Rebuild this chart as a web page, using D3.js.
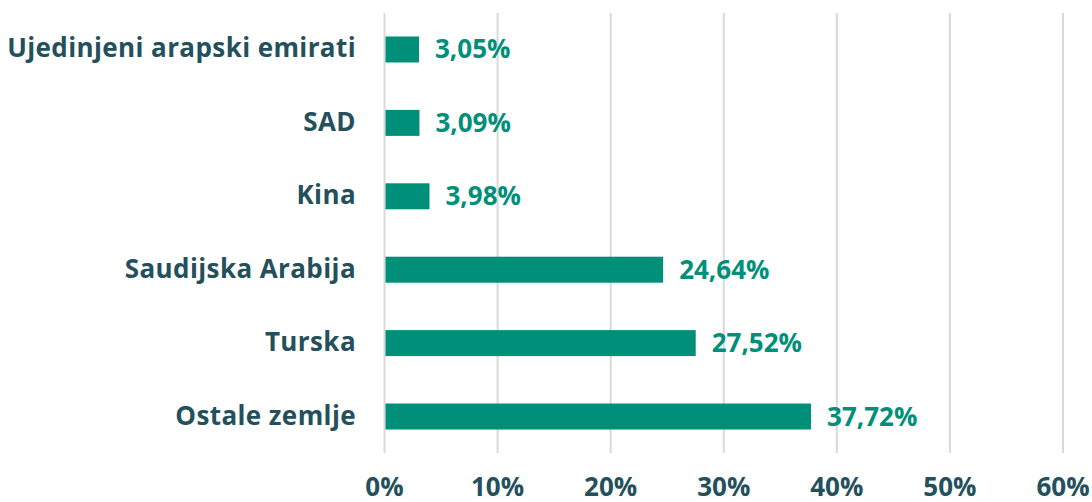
<!DOCTYPE html>
<html><head><meta charset="utf-8">
<script src="https://cdn.jsdelivr.net/npm/d3@7"></script>
<style>body{margin:0;background:#fff}svg{display:block}text{font-family:"Open Sans",sans-serif;font-weight:700}</style>
</head><body><svg id="c" width="1092" height="502"></svg>
<script>
const categories = ["Ujedinjeni arapski emirati","SAD","Kina","Saudijska Arabija","Turska","Ostale zemlje"];
const values = [3.05,3.09,3.98,24.64,27.52,37.72];
const tickValues = [0,10,20,30,40,50,60];
const fmt = v => v.toFixed(2).replace(".", ",") + "%";

const svg = d3.select("#c");
const x = d3.scaleLinear().domain([0,60]).range([384.5,1063]);
const y = d3.scaleBand().domain(categories).range([13,453]).paddingInner(0.646).paddingOuter(0.32);
const textColor = "#24505c", barColor = "#008f78";

svg.append("g").selectAll("line").data(tickValues).join("line")
  .attr("x1", d=>x(d)).attr("x2", d=>x(d)).attr("y1",13).attr("y2",453)
  .attr("stroke","#d9d9d9").attr("stroke-width",2);

svg.append("g").selectAll("text").data(tickValues).join("text")
  .attr("x", d=>x(d)).attr("y",496).attr("text-anchor","middle")
  .attr("fill",textColor).attr("font-size",26).text(d=>d+"%");

svg.append("g").selectAll("rect").data(values).join("rect")
  .attr("x", x(0)+1).attr("y",(d,i)=>y(categories[i])).attr("height",y.bandwidth())
  .attr("width", d=>x(d)-x(0)-1).attr("fill",barColor);

svg.append("g").selectAll("text").data(values).join("text")
  .attr("x", d=>x(d)+16).attr("y",(d,i)=>y(categories[i])+y.bandwidth()/2+9)
  .attr("fill",barColor).attr("font-size",26).text(fmt);

svg.append("g").selectAll("text").data(categories).join("text")
  .attr("x",356).attr("y",d=>y(d)+y.bandwidth()/2+8).attr("text-anchor","end")
  .attr("fill",textColor).attr("font-size",26).attr("letter-spacing",0.4).text(d=>d);
</script></body></html>
